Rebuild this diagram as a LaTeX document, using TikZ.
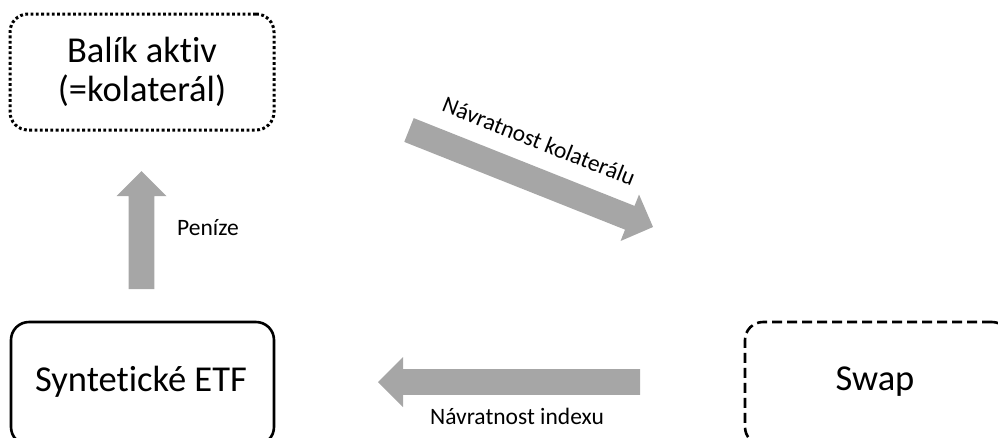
\documentclass[tikz,border=0pt]{standalone}
\usepackage{fontspec}
\setmainfont{Carlito}[Ligatures=NoCommon]
\definecolor{arrowgray}{HTML}{A6A6A6}
\tikzset{
  boxbase/.style={draw=black, line width=2.6pt, rounded corners=18pt, align=center,
    font=\fontsize{36.5}{39}\selectfont, inner sep=0pt},
  dotbox/.style={boxbase, line width=3pt, dash pattern=on 2.8pt off 2.5pt},
  dashbox/.style={boxbase, dash pattern=on 10pt off 5pt},
  solidbox/.style={boxbase},
  lbl/.style={font=\fontsize{23.5}{26}\selectfont, inner sep=0pt},
  bigtext/.style={font=\fontsize{36.5}{39}\selectfont, inner sep=0pt},
}
% block arrow: start, angle, length, head length
\newcommand{\blockarrow}[4]{%
  \begin{scope}[shift={(#1)}, rotate=#2]
    \fill[arrowgray] (0,-12.8) -- (#3-#4,-12.8) -- (#3-#4,-25) -- (#3,0)
      -- (#3-#4,25) -- (#3-#4,12.8) -- (0,12.8) -- cycle;
  \end{scope}}
\begin{document}
\begin{tikzpicture}[x=1pt,y=1pt]
\useasboundingbox (0,0) rectangle (998,-437);
% boxes
\node[dotbox, minimum width=264pt, minimum height=116pt] (collat) at (142,-72) {Balík aktiv\\(=kolaterál)};
\node[solidbox, minimum width=263pt, minimum height=123pt] (etf) at (142.5,-383.5) {};
\node[bigtext] (etftext) at (141,-382) {Syntetické ETF};
\node[dashbox, minimum width=265pt, minimum height=123pt] (swap) at (877.5,-383.5) {};
\node[bigtext] (swaptext) at (875,-382) {Swap};
% arrows
\coordinate (upS) at (141.5,-289);
\blockarrow{upS}{90}{118}{25}
\coordinate (diagS) at (409,-130);
\blockarrow{diagS}{-21.68}{262.6}{25}
\coordinate (leftS) at (640,-382);
\blockarrow{leftS}{180}{262}{25}
% labels
\node[lbl] (money) at (208,-228) {Peníze};
\node[lbl, rotate=-21.68] (ret1) at (539,-141) {Návratnost kolaterálu};
\node[lbl] (ret2) at (517,-416) {Návratnost indexu};
\end{tikzpicture}
\end{document}
